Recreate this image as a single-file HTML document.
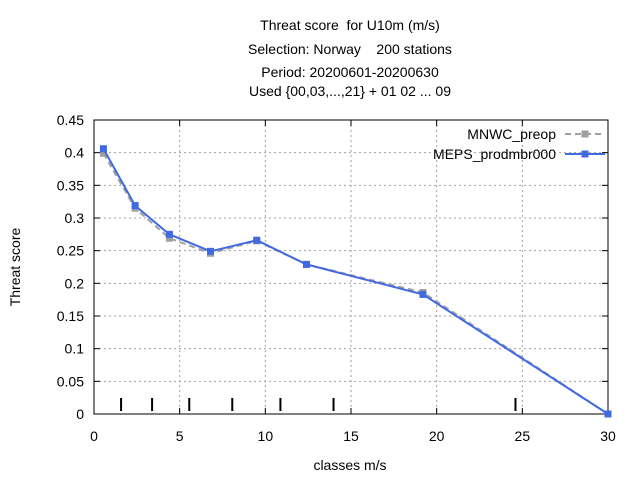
<!DOCTYPE html>
<html><head><meta charset="utf-8"><style>
body{margin:0;background:#fff}
svg{display:block;font-family:"Liberation Sans",sans-serif}
#title text{white-space:pre}
</style></head><body>
<svg id="c" width="640" height="480">
<g id="title" font-size="14" text-anchor="middle">
<text x="350" y="30" xml:space="preserve">Threat score  for U10m (m/s)</text>
<text x="350" y="54" xml:space="preserve">Selection: Norway    200 stations</text>
<text x="350" y="77">Period: 20200601-20200630</text>
<text x="350" y="96">Used {00,03,...,21} + 01 02 ... 09</text>
</g>
<text x="20" y="267" font-size="14" text-anchor="middle" transform="rotate(-90 20 267)">Threat score</text>
<text x="350" y="470" font-size="14" text-anchor="middle">classes m/s</text>
<g id="grid"></g><g id="axes"></g><g id="marks"></g><g id="legend"></g>
</svg>
<script>
const xTicks=[0,5,10,15,20,25,30];
const yTicks=[0,0.05,0.1,0.15,0.2,0.25,0.3,0.35,0.4,0.45];
const yTickLabels=["0","0.05","0.1","0.15","0.2","0.25","0.3","0.35","0.4","0.45"];
const classLimits=[1.58,3.39,5.56,8.07,10.88,13.98,24.6];
const seriesNames=["MNWC_preop","MEPS_prodmbr000"];
const mnwcX=[0.55,2.4,4.4,6.8,9.5,12.4,19.2,30];
const mnwcY=[0.399,0.315,0.269,0.246,0.265,0.229,0.186,0.0];
const mepsX=[0.55,2.4,4.4,6.8,9.5,12.4,19.2,30];
const mepsY=[0.406,0.319,0.275,0.249,0.266,0.229,0.183,0.0];
const L=94,R=608,T=120,B=414;
const sx=v=>L+(v-0)/30*(R-L);
const sy=v=>B-v/0.45*(B-T);
const NS="http://www.w3.org/2000/svg";
function mk(tag,attrs,parent,text){const e=document.createElementNS(NS,tag);for(const k in attrs)e.setAttribute(k,attrs[k]);if(text!==undefined)e.textContent=text;document.getElementById(parent).appendChild(e);return e;}
xTicks.forEach((v,i)=>{
 if(i>0&&i<xTicks.length-1){const g=mk('line',{x1:sx(v),x2:sx(v),y1:T,y2:B,stroke:'#a0a0a0','stroke-dasharray':'2,3'},'grid');
 
 }
 const t=mk('text',{x:sx(v),y:B+27,'font-size':14,'text-anchor':'middle'},'axes',String(v));
 
 
 mk('line',{x1:sx(v),x2:sx(v),y1:B,y2:B-6,stroke:'#000'},'axes');
 mk('line',{x1:sx(v),x2:sx(v),y1:T,y2:T+6,stroke:'#000'},'axes');
});
yTicks.forEach((v,i)=>{
 if(i>0&&i<yTicks.length-1){const g=mk('line',{x1:L,x2:R,y1:sy(v),y2:sy(v),stroke:'#a0a0a0','stroke-dasharray':'2,3'},'grid');
 
 }
 const t=mk('text',{x:L-10,y:sy(v)+5,'font-size':14,'text-anchor':'end'},'axes',yTickLabels[i]);
 
 
 mk('line',{x1:L,x2:L+6,y1:sy(v),y2:sy(v),stroke:'#000'},'axes');
 mk('line',{x1:R,x2:R-6,y1:sy(v),y2:sy(v),stroke:'#000'},'axes');
});
const fr=mk('rect',{x:L,y:T,width:R-L,height:B-T,fill:'none',stroke:'#000'},'axes');


classLimits.forEach(v=>{
 const c=mk('line',{x1:sx(v),x2:sx(v),y1:B-16,y2:B-3,stroke:'#000','stroke-width':2},'marks');
 
 
});
function series(xs,ys,color,dash,name){
 const p=mk('polyline',{points:xs.map((x,i)=>sx(x)+','+sy(ys[i])).join(' '),fill:'none',stroke:color,'stroke-width':2,'stroke-dasharray':dash},'marks');
 
 
 xs.forEach((x,i)=>{
  const m=mk('rect',{x:sx(x)-3.5,y:sy(ys[i])-3.5,width:7,height:7,fill:color},'marks');
  
  
 });
}
series(mnwcX,mnwcY,'#a0a0a0','6,4','mnwc');
series(mepsX,mepsY,'#4169e1','none','meps');
[['#a0a0a0','6,4'],['#4169e1','none']].forEach((s,i)=>{
 const y=134+i*20;
 const t=mk('text',{x:556,y:y+5,'font-size':14,'text-anchor':'end'},'legend',seriesNames[i]);
 
 
 mk('line',{x1:565,x2:605,y1:y,y2:y,stroke:s[0],'stroke-width':2,'stroke-dasharray':s[1]},'legend');
 mk('rect',{x:581.5,y:y-3.5,width:7,height:7,fill:s[0]},'legend');
});
</script>
</body></html>
